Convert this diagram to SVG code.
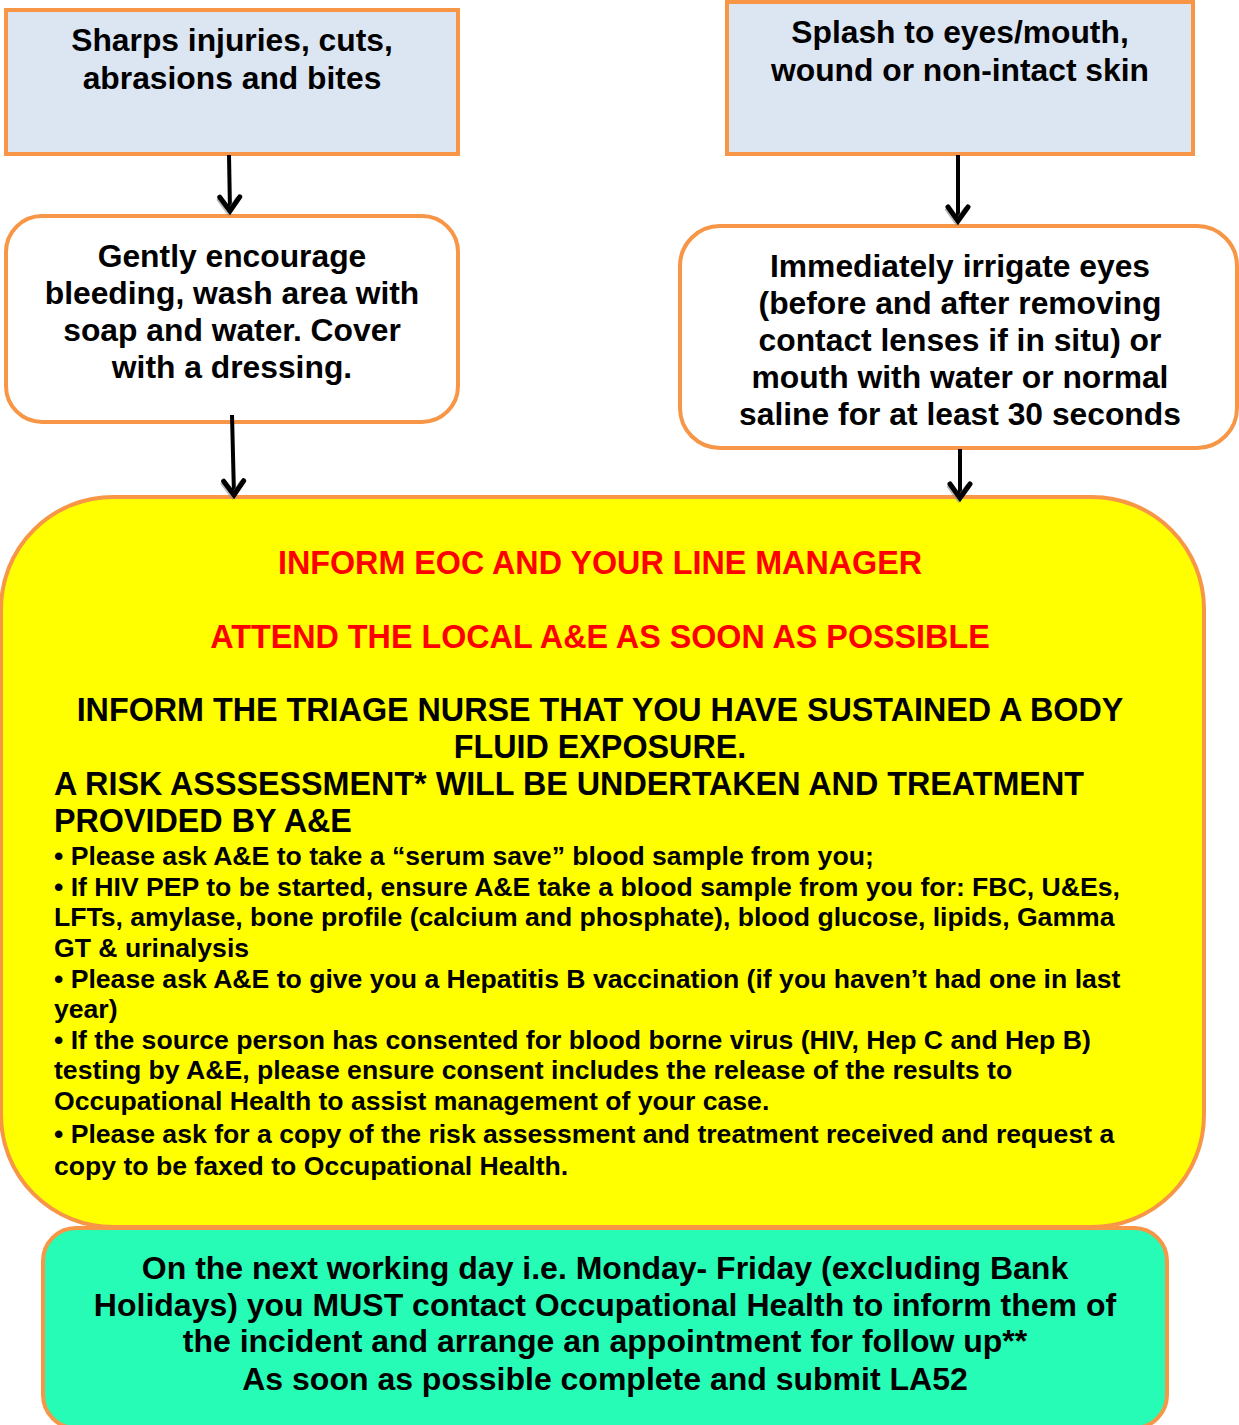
<svg xmlns="http://www.w3.org/2000/svg" width="1239" height="1425" viewBox="0 0 1239 1425">
<style>
.box{stroke:#f79646;stroke-width:4}
.t{font-family:"Liberation Sans",Arial,sans-serif;font-weight:bold;font-size:31.8px;fill:#000}
.c{text-anchor:middle}
.red{fill:#ff0000}
.cap{font-size:32.3px}
.g{font-size:32px}
.s{font-size:26.6px}
.conn{stroke:#000;stroke-width:4;fill:none}
</style>
<defs>
<marker id="ah" markerUnits="userSpaceOnUse" viewBox="-20 -14 24 28" markerWidth="24" markerHeight="28" refX="0" refY="0" orient="auto" overflow="visible">
<path d="M-14,-10 L0,0 L-14,10" fill="none" stroke="#8c8c8c" stroke-width="5" stroke-linejoin="miter" transform="translate(1,1.5)" opacity="0.6"/>
<path d="M-14,-10 L0,0 L-14,10" fill="none" stroke="#000" stroke-width="5" stroke-linecap="round" stroke-linejoin="miter"/>
</marker>
</defs>
<g id="sharps">
<rect class="box" x="6" y="10" width="452" height="144" fill="#dce6f2"/>
<text class="t c" x="232" y="51">Sharps injuries, cuts,</text>
<text class="t c" x="232" y="89">abrasions and bites</text>
</g>
<g id="splash">
<rect class="box" x="727" y="2" width="466" height="152" fill="#dce6f2"/>
<text class="t c" x="960" y="43">Splash to eyes/mouth,</text>
<text class="t c" x="960" y="81">wound or non-intact skin</text>
</g>
<g id="wash">
<rect class="box" x="6" y="216" width="452" height="206" rx="36" fill="#fff"/>
<text class="t c" x="232" y="267">Gently encourage</text>
<text class="t c" x="232" y="304">bleeding, wash area with</text>
<text class="t c" x="232" y="341">soap and water. Cover</text>
<text class="t c" x="232" y="378">with a dressing.</text>
</g>
<g id="irrigate">
<rect class="box" x="680" y="226" width="557" height="222" rx="40" fill="#fff"/>
<text class="t c" x="960" y="277">Immediately irrigate eyes</text>
<text class="t c" x="960" y="314">(before and after removing</text>
<text class="t c" x="960" y="351">contact lenses if in situ) or</text>
<text class="t c" x="960" y="388">mouth with water or normal</text>
<text class="t c" x="960" y="425">saline for at least 30 seconds</text>
</g>
<g id="inform">
<rect class="box" x="1" y="497" width="1203" height="730" rx="112" fill="#ffff00"/>
<text class="t c red cap" x="600" y="574">INFORM EOC AND YOUR LINE MANAGER</text>
<text class="t c red cap" x="600" y="648">ATTEND THE LOCAL A&amp;E AS SOON AS POSSIBLE</text>
<text class="t c cap" x="600" y="721">INFORM THE TRIAGE NURSE THAT YOU HAVE SUSTAINED A BODY</text>
<text class="t c cap" x="600" y="758">FLUID EXPOSURE.</text>
<text class="t cap" x="54" y="795">A RISK ASSSESSMENT* WILL BE UNDERTAKEN AND TREATMENT</text>
<text class="t cap" x="54" y="832">PROVIDED BY A&amp;E</text>
<text class="t s" x="54" y="865">• Please ask A&amp;E to take a “serum save” blood sample from you;</text>
<text class="t s" x="54" y="896">• If HIV PEP to be started, ensure A&amp;E take a blood sample from you for: FBC, U&amp;Es,</text>
<text class="t s" x="54" y="926">LFTs, amylase, bone profile (calcium and phosphate), blood glucose, lipids, Gamma</text>
<text class="t s" x="54" y="957">GT &amp; urinalysis</text>
<text class="t s" x="54" y="988">• Please ask A&amp;E to give you a Hepatitis B vaccination (if you haven’t had one in last</text>
<text class="t s" x="54" y="1018">year)</text>
<text class="t s" x="54" y="1049">• If the source person has consented for blood borne virus (HIV, Hep C and Hep B)</text>
<text class="t s" x="54" y="1079">testing by A&amp;E, please ensure consent includes the release of the results to</text>
<text class="t s" x="54" y="1110">Occupational Health to assist management of your case.</text>
<text class="t s" x="54" y="1143">• Please ask for a copy of the risk assessment and treatment received and request a</text>
<text class="t s" x="54" y="1175">copy to be faxed to Occupational Health.</text>
</g>
<g id="followup">
<rect class="box" x="43" y="1228" width="1124" height="200" rx="33" fill="#26fcb5"/>
<text class="t c g" x="605" y="1279">On the next working day i.e. Monday- Friday (excluding Bank</text>
<text class="t c g" x="605" y="1316">Holidays) you MUST contact Occupational Health to inform them of</text>
<text class="t c g" x="605" y="1352">the incident and arrange an appointment for follow up**</text>
<text class="t c g" x="605" y="1390">As soon as possible complete and submit LA52</text>
</g>
<g id="connectors">
<line class="conn" x1="229" y1="155" x2="230" y2="211" marker-end="url(#ah)"/>
<line class="conn" x1="958" y1="155" x2="958" y2="221" marker-end="url(#ah)"/>
<line class="conn" x1="232" y1="415" x2="234" y2="495" marker-end="url(#ah)"/>
<line class="conn" x1="960" y1="449" x2="960" y2="498" marker-end="url(#ah)"/>
</g>
</svg>
